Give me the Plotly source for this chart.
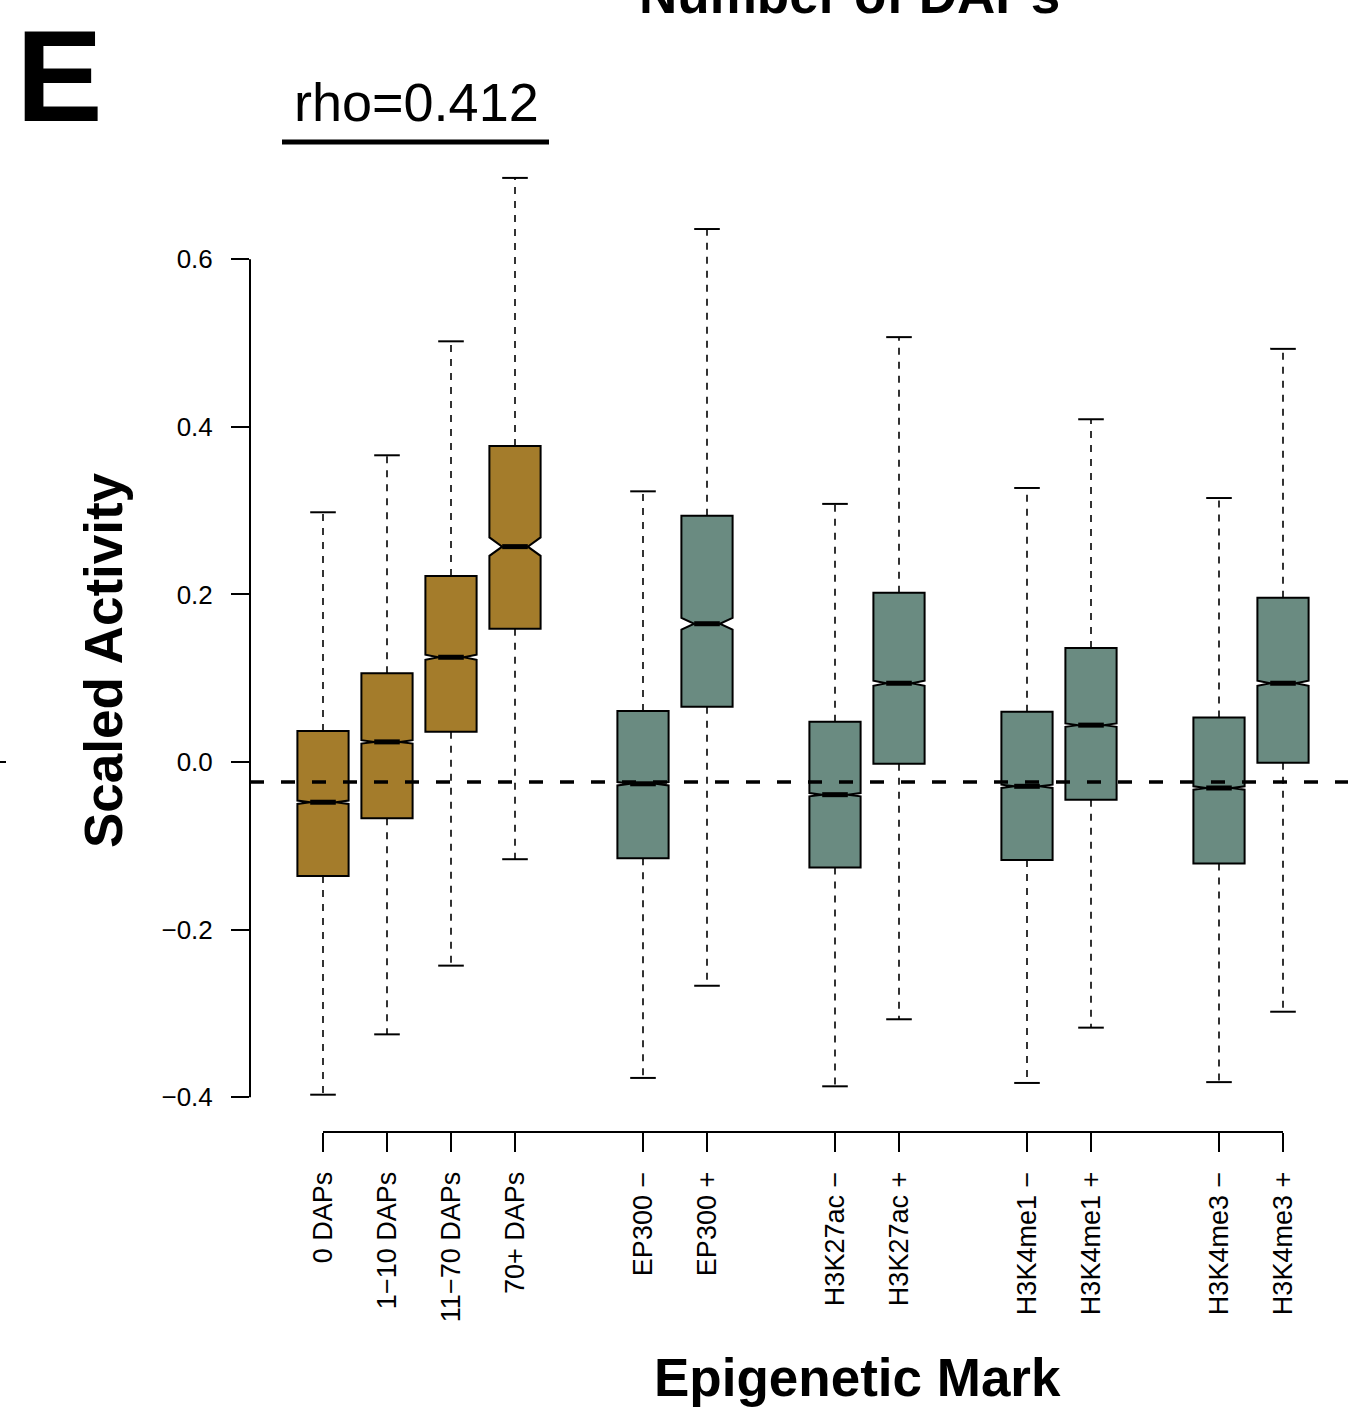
import plotly.graph_objects as go

# ---------------- data ----------------
labels = ["0 DAPs", "1\u221210 DAPs", "11\u221270 DAPs", "70+ DAPs",
          "EP300 \u2212", "EP300 +", "H3K27ac \u2212", "H3K27ac +",
          "H3K4me1 \u2212", "H3K4me1 +", "H3K4me3 \u2212", "H3K4me3 +"]
positions = [1, 2, 3, 4, 6, 7, 9, 10, 12, 13, 15, 16]
group = ["dap"] * 4 + ["mark"] * 8
upper_whisker = [0.298, 0.366, 0.502, 0.697, 0.323, 0.636, 0.308, 0.507, 0.327, 0.409, 0.315, 0.493]
q3 = [0.037, 0.106, 0.222, 0.377, 0.061, 0.294, 0.048, 0.202, 0.060, 0.136, 0.053, 0.196]
median = [-0.048, 0.024, 0.125, 0.257, -0.026, 0.165, -0.039, 0.094, -0.029, 0.044, -0.031, 0.094]
q1 = [-0.136, -0.067, 0.036, 0.159, -0.115, 0.066, -0.126, -0.002, -0.117, -0.045, -0.121, -0.001]
lower_whisker = [-0.397, -0.325, -0.243, -0.116, -0.377, -0.267, -0.387, -0.307, -0.383, -0.317, -0.382, -0.298]
notch_span = [0.002, 0.002, 0.003, 0.011, 0.002, 0.007, 0.002, 0.003, 0.002, 0.002, 0.002, 0.003]
reference_level = -0.024
y_ticks = [-0.4, -0.2, 0.0, 0.2, 0.4, 0.6]
y_ticktext = ["\u22120.4", "\u22120.2", "0.0", "0.2", "0.4", "0.6"]
rho_text = "rho=0.412"

# ---------------- style ----------------
FONT = "Liberation Sans"
colors = {"dap": "#A47C2B", "mark": "#6A8B81"}
BOX_W = 0.8
HALF_NOTCH = BOX_W / 4
CAP_HALF = BOX_W / 4

W, H = 1348, 1409
ML, MR, MT, MB = 250, 0, 141, 277
PW, PH = W - ML - MR, H - MT - MB


def px2paper_x(px):
    return (px - ML) / PW


def px2paper_y(py):
    return (H - MB - py) / PH


fig = go.Figure()

# boxes
for g in ["dap", "mark"]:
    idx = [i for i, gg in enumerate(group) if gg == g]
    fig.add_trace(go.Box(
        x=[positions[i] for i in idx],
        q1=[q1[i] for i in idx],
        median=[median[i] for i in idx],
        q3=[q3[i] for i in idx],
        lowerfence=[q1[i] for i in idx],
        upperfence=[q3[i] for i in idx],
        notchspan=[notch_span[i] for i in idx],
        notched=True,
        notchwidth=0.25,
        width=BOX_W,
        whiskerwidth=0,
        fillcolor=colors[g],
        line=dict(color="black", width=2),
        boxpoints=False,
        showlegend=False,
        hoverinfo="skip",
    ))

# whiskers (dashed)
wx, wy = [], []
for p, a, b, c, d in zip(positions, q3, upper_whisker, q1, lower_whisker):
    wx += [p, p, None, p, p, None]
    wy += [a, b, None, c, d, None]
fig.add_trace(go.Scatter(x=wx, y=wy, mode="lines",
                         line=dict(color="black", width=1.6, dash="7px,7px"),
                         showlegend=False, hoverinfo="skip"))

# whisker caps
cx, cy = [], []
for p, b, d in zip(positions, upper_whisker, lower_whisker):
    cx += [p - CAP_HALF, p + CAP_HALF, None, p - CAP_HALF, p + CAP_HALF, None]
    cy += [b, b, None, d, d, None]
fig.add_trace(go.Scatter(x=cx, y=cy, mode="lines",
                         line=dict(color="black", width=2),
                         showlegend=False, hoverinfo="skip"))

# thick medians
mx, my = [], []
for p, m in zip(positions, median):
    mx += [p - HALF_NOTCH, p + HALF_NOTCH, None]
    my += [m, m, None]
fig.add_trace(go.Scatter(x=mx, y=my, mode="lines",
                         line=dict(color="black", width=5),
                         showlegend=False, hoverinfo="skip"))

shapes = [
    # reference dashed line
    dict(type="line", xref="x domain", yref="y", x0=0, x1=1,
         y0=reference_level, y1=reference_level,
         line=dict(color="black", width=3.5, dash="14px,17px"), layer="above"),
    # y axis line
    dict(type="line", xref="x domain", yref="y", x0=0, x1=0,
         y0=min(y_ticks), y1=max(y_ticks), line=dict(color="black", width=2)),
    # x axis line
    dict(type="line", xref="x", yref="y domain", x0=positions[0], x1=positions[-1],
         y0=0, y1=0, line=dict(color="black", width=2)),
    # rho underline
    dict(type="line", xref="paper", yref="paper",
         x0=px2paper_x(282), x1=px2paper_x(549),
         y0=px2paper_y(142), y1=px2paper_y(142),
         line=dict(color="black", width=5)),
    # stray tick of neighbouring panel
    dict(type="line", xref="paper", yref="y",
         x0=px2paper_x(0), x1=px2paper_x(6), y0=0, y1=0,
         line=dict(color="black", width=2)),
]

annotations = [
    dict(text="E", xref="paper", yref="paper", x=px2paper_x(14), y=px2paper_y(76),
         xanchor="left", yanchor="middle", showarrow=False,
         font=dict(family=FONT, size=130, color="black", weight="bold")),
    dict(text=rho_text, xref="paper", yref="paper", x=px2paper_x(416), y=px2paper_y(102),
         xanchor="center", yanchor="middle", showarrow=False,
         font=dict(family=FONT, size=54, color="black")),
    dict(text="Number of DAPs", xref="paper", yref="paper", x=px2paper_x(849), y=px2paper_y(-6),
         xanchor="center", yanchor="middle", showarrow=False,
         font=dict(family=FONT, size=53, color="black", weight="bold")),
    dict(text="Scaled Activity", xref="paper", yref="paper", x=px2paper_x(103), y=px2paper_y(660),
         xanchor="center", yanchor="middle", textangle=-90, showarrow=False,
         font=dict(family=FONT, size=53, color="black", weight="bold")),
    dict(text="Epigenetic Mark", xref="paper", yref="paper", x=px2paper_x(857), y=px2paper_y(1377),
         xanchor="center", yanchor="middle", showarrow=False,
         font=dict(family=FONT, size=53, color="black", weight="bold")),
]

x_left = positions[0] - (323 - ML) / 64.0
x_right = positions[-1] + (W - MR - 1283) / 64.0
y_bottom = -(H - MB - 762) / 838.0
y_top = (762 - MT) / 838.0

fig.update_layout(
    width=W, height=H,
    margin=dict(l=ML, r=MR, t=MT, b=MB, pad=0),
    paper_bgcolor="white", plot_bgcolor="white",
    boxmode="overlay",
    showlegend=False,
    shapes=shapes,
    annotations=annotations,
    font=dict(family=FONT, color="black"),
    xaxis=dict(range=[x_left, x_right], tickmode="array", tickvals=positions, ticktext=labels,
               tickangle=-90, ticks="outside", ticklen=19, tickwidth=2, tickcolor="black",
               showgrid=False, zeroline=False, showline=False, ticklabelstandoff=9,
               tickfont=dict(family=FONT, size=27, color="black")),
    yaxis=dict(range=[y_bottom, y_top], tickmode="array", tickvals=y_ticks, ticktext=y_ticktext,
               ticks="outside", ticklen=18, tickwidth=2, tickcolor="black",
               showgrid=False, zeroline=False, showline=False, ticklabelstandoff=13,
               tickfont=dict(family=FONT, size=26, color="black")),
)

fig.write_html("out.html")
